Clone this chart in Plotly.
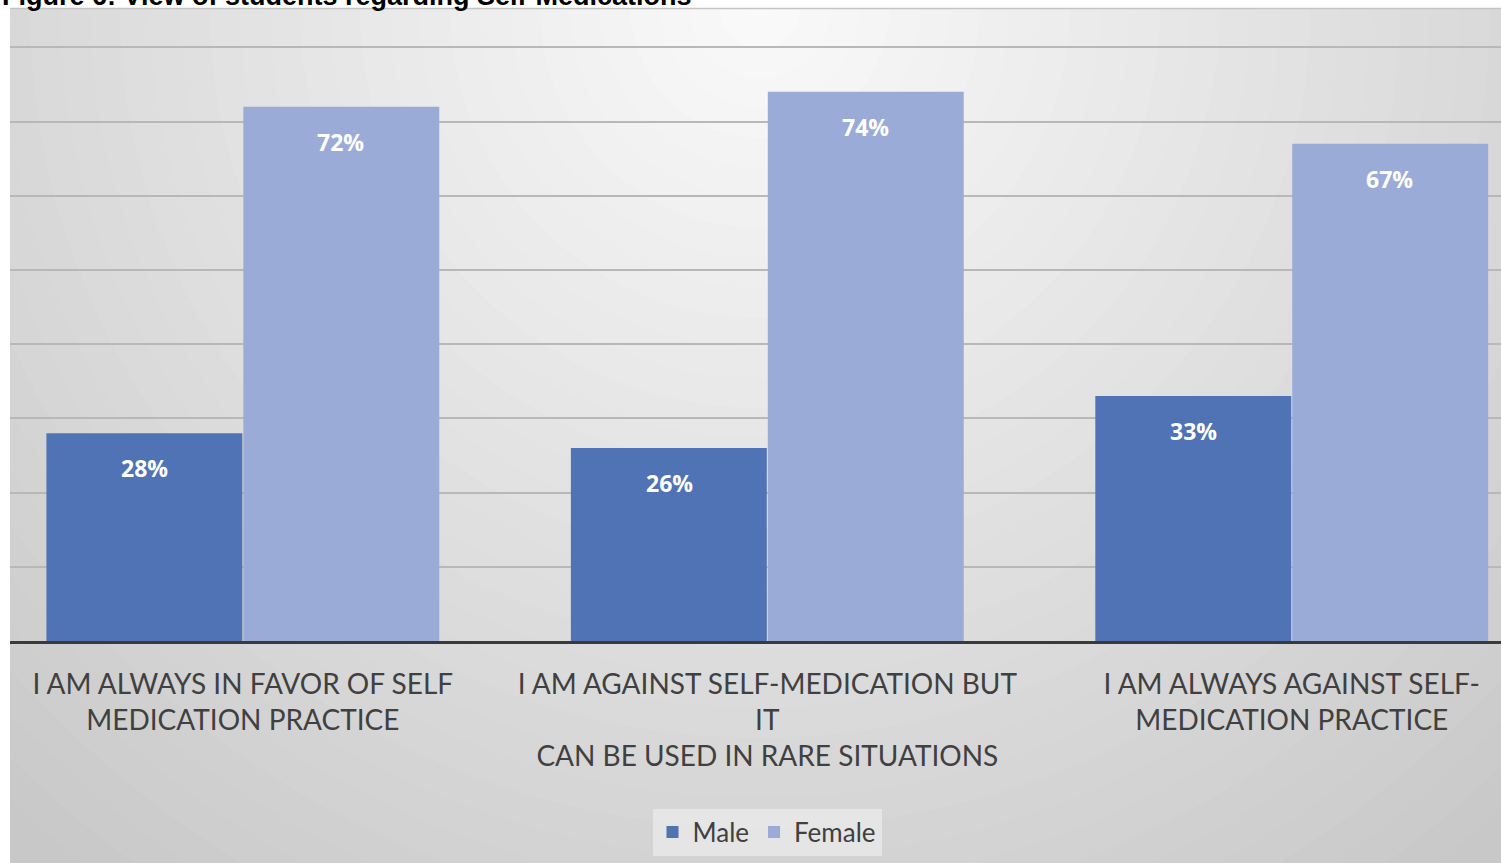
import plotly.graph_objects as go

# ------------------------------------------------------------
# Datos del gráfico
# ------------------------------------------------------------
categories = [
    'I AM ALWAYS IN FAVOR OF SELF<br>MEDICATION PRACTICE',
    'I AM AGAINST SELF-MEDICATION BUT<br>IT<br>CAN BE USED IN RARE SITUATIONS',
    'I AM ALWAYS AGAINST SELF-<br>MEDICATION PRACTICE',
]
male = [28, 26, 33]
female = [72, 74, 67]
series_names = ['Male', 'Female']
title_text = 'Figure 6: View of students regarding Self-Medications'

COLORS = {'Male': '#5073B5', 'Female': '#9AABD8'}

# geometría en píxeles (ventana 1501x863)
W, H = 1501, 863
PL, PR, PT, PB = 10, 1501, 8, 641   # área de dibujo


def px_x(px):
    return (px - PL) / (PR - PL)


def px_y(py):
    return (PB - py) / (PB - PT)


fig = go.Figure()

for name, vals in zip(series_names, [male, female]):
    fig.add_trace(go.Bar(
        x=categories,
        y=vals,
        name=name,
        marker=dict(color=COLORS[name], line=dict(width=0)),
        hoverinfo='skip',
    ))

# etiquetas de datos dentro de las barras (a 35 px bajo la parte superior)
annotations = []
for i, (name, vals) in enumerate(zip(series_names, [male, female])):
    shift = -98 if i == 0 else 98
    for cat, v in zip(categories, vals):
        annotations.append(dict(
            x=cat, y=v, xref='x', yref='y',
            text=f'<b>{v}%</b>', showarrow=False,
            xshift=shift, yshift=-35,
            font=dict(family='Open Sans, sans-serif', size=23, color='white'),
        ))

# título recortado en la parte superior
annotations.append(dict(
    x=px_x(0), y=px_y(13), xref='paper', yref='paper',
    xanchor='left', yanchor='bottom',
    text=f'<b>{title_text}</b>', showarrow=False,
    font=dict(family='Liberation Sans, Arial, sans-serif', size=27, color='black'),
))

# fondo con degradado radial aproximado (círculos concéntricos)
shapes = []
cx, cy = 760, 8
for r in range(1240, 0, -30):
    g = int(max(200, min(251, 251 - 0.045 * r)))
    col = f'rgb({g},{g},{g})'
    shapes.append(dict(
        type='circle', xref='paper', yref='paper', layer='below',
        x0=px_x(cx - r), x1=px_x(cx + r),
        y0=px_y(cy + r), y1=px_y(cy - r),
        fillcolor=col, line=dict(width=0),
    ))
# márgenes blancos alrededor del gráfico
shapes.append(dict(type='rect', xref='paper', yref='paper', layer='below',
                   x0=px_x(-50), x1=px_x(W + 50), y0=px_y(PT), y1=px_y(-1300),
                   fillcolor='white', line=dict(width=0)))
shapes.append(dict(type='rect', xref='paper', yref='paper', layer='below',
                   x0=px_x(-1300), x1=px_x(PL), y0=px_y(H + 50), y1=px_y(-50),
                   fillcolor='white', line=dict(width=0)))
shapes.append(dict(type='line', xref='paper', yref='paper', layer='below',
                   x0=px_x(PL), x1=px_x(W), y0=px_y(PT + 0.5), y1=px_y(PT + 0.5),
                   line=dict(color='#c4c4c4', width=1.5)))

fig.update_layout(
    width=W, height=H,
    barmode='group',
    bargap=0.249,
    bargroupgap=0.005,
    margin=dict(l=PL, r=W - PR, t=PT, b=H - PB),
    paper_bgcolor='white',
    plot_bgcolor='rgba(0,0,0,0)',
    font=dict(family='Lato, Open Sans, sans-serif', color='#404040'),
    showlegend=True,
    legend=dict(
        orientation='h',
        x=px_x(767), y=px_y(832),
        xanchor='center', yanchor='middle',
        bgcolor='rgba(236,236,236,0.7)',
        font=dict(size=26, color='#404040'),
        itemwidth=30,
    ),
    annotations=annotations,
    shapes=shapes,
)

fig.update_xaxes(
    range=[-0.444, 2.399],
    showline=True, linecolor='#3a3a3a', linewidth=3,
    showgrid=False,
    ticks='',
    tickfont=dict(size=28, color='#404040'),
    ticklabelstandoff=16,
    tickangle=0,
)
fig.update_yaxes(
    range=[0, 85.3],
    dtick=10,
    showgrid=True, gridcolor='#b8b8b8', gridwidth=1.5,
    showticklabels=False,
    zeroline=False,
)

fig.write_html('out.html', config={'displayModeBar': False},
               post_script="document.body.style.margin='0';")
